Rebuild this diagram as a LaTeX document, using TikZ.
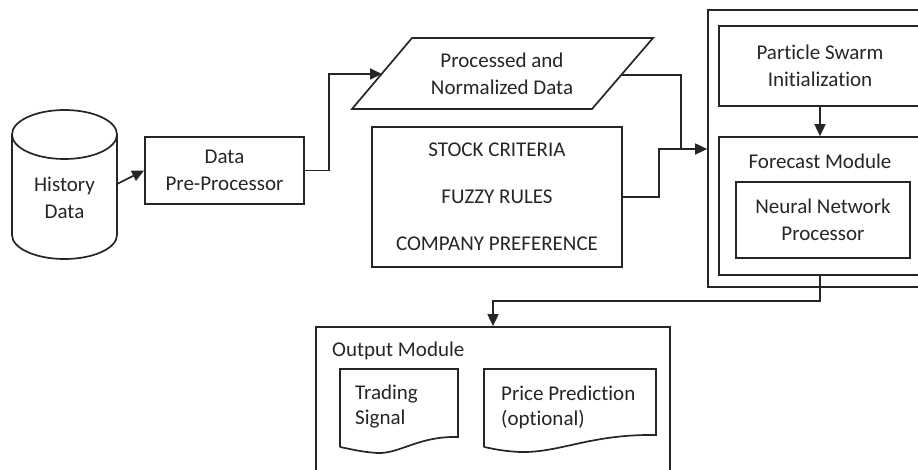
\documentclass[tikz,border=0pt]{standalone}
\usepackage{fontspec}
\setmainfont{Carlito}[Ligatures=NoCommon]
\usetikzlibrary{arrows.meta,calc}
\tikzset{
  ln/.style={line width=1.7pt, draw=black!85},
  arr/.style={ln, -{Triangle[length=12pt,width=11pt]}},
  txt/.style={font=\fontsize{21pt}{27pt}\selectfont, text=black!85, inner sep=0pt},
  box/.style={ln, txt, rectangle, align=center},
}
\begin{document}
\begin{tikzpicture}[x=1pt,y=-1pt]
\useasboundingbox[fill=white] (0,0) rectangle (918,470);
% history cylinder
\draw[ln] (12,134.5) -- (12,235) arc[start angle=180,end angle=360,x radius=52.5pt,y radius=24pt] -- (117,134.5);
\draw[ln] (64.5,134.5) ellipse[x radius=52.5pt,y radius=24.5pt];
\node[txt, align=center] (hist) at (64.5,198) {History\\Data};
\coordinate (cylE) at (117,184);
% pre-processor
\node[box, minimum width=159pt, minimum height=67pt] (pre) at (224.5,170.5) {Data\\Pre-Processor};
% parallelogram
\draw[ln] (412,38) -- (653,38) -- (592,109) -- (352,109) -- cycle;
\node[txt, align=center] (proc) at (502,74) {Processed and\\Normalized Data};
\coordinate (procW) at (382,74);
\coordinate (procE) at (621,75);
% criteria
\node[box, minimum width=250pt, minimum height=140pt] (crit) at (497,197) {STOCK CRITERIA\\[20pt]FUZZY RULES\\[20pt]COMPANY PREFERENCE};
% outer module
\node[ln, rectangle, minimum width=225pt, minimum height=277pt, inner sep=0pt] (outer) at (820.5,148.5) {};
\node[box, minimum width=202pt, minimum height=80pt] (ps) at (820,66) {Particle Swarm\\Initialization};
\node[ln, rectangle, minimum width=202pt, minimum height=138pt, inner sep=0pt] (fc) at (820,206) {};
\node[txt] (fclab) at (820,161) {Forecast Module};
\node[box, minimum width=174pt, minimum height=76pt] (nn) at (823,220) {Neural Network\\Processor};
% output module
\node[ln, rectangle, minimum width=354pt, minimum height=193pt, inner sep=0pt] (out) at (493,423.5) {};
\node[txt, anchor=west] (outlab) at (332,351) {Output Module};
% documents
\draw[ln] (340,447) -- (340,369) -- (458,369) -- (458,437)
  .. controls (418,436) and (400,454) .. (377,453)
  .. controls (362,452) and (350,449) .. (340,447);
\node[txt, anchor=west, align=left, font=\fontsize{21pt}{25pt}\selectfont] (ts) at (355,407) {Trading\\Signal};
\draw[ln] (484,447) -- (484,369) -- (656,369) -- (656,435)
  .. controls (590,434) and (560,453) .. (520,452)
  .. controls (500,451) and (490,448) .. (484,447);
\node[txt, anchor=west, align=left, font=\fontsize{21pt}{25pt}\selectfont] (pp) at (501,407) {Price Prediction\\(optional)};
% connectors
\coordinate (join) at (681,149);
\draw[arr] (cylE) -- (pre.west);
\draw[arr] (pre.east) -- ++(24,0) |- (procW);
\draw[ln] (procE) -| (join);
\draw[ln] (crit.east) -- ++(36,0) |- (join);
\draw[arr] (join) -- (join -| outer.west);
\draw[arr] (ps.south) -- (fc.north);
\draw[arr] (fc.south) -- ++(0,25) -| (out.north);
\end{tikzpicture}
\end{document}
